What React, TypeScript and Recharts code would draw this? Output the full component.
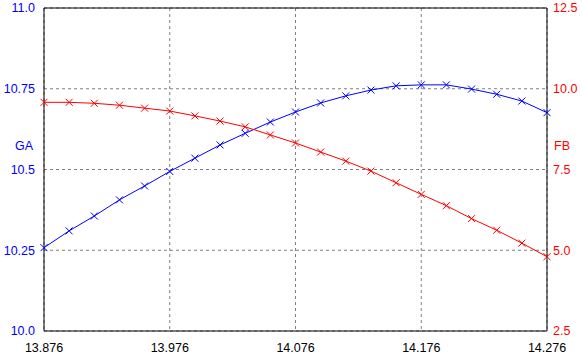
import React from 'react';
import { LineChart, Line, XAxis, YAxis, CartesianGrid, ReferenceLine } from 'recharts';

const xValues = [13.876, 13.896, 13.916, 13.936, 13.956, 13.976, 13.996, 14.016, 14.036, 14.056, 14.076, 14.096, 14.116, 14.136, 14.156, 14.176, 14.196, 14.216, 14.236, 14.256, 14.276];
const gaValues = [10.258, 10.31, 10.356, 10.406, 10.449, 10.494, 10.535, 10.576, 10.612, 10.647, 10.678, 10.706, 10.728, 10.746, 10.759, 10.762, 10.762, 10.749, 10.733, 10.712, 10.676];
const fbValues = [9.58, 9.58, 9.55, 9.49, 9.4, 9.31, 9.16, 9.0, 8.82, 8.57, 8.32, 8.04, 7.76, 7.45, 7.09, 6.73, 6.38, 5.98, 5.62, 5.22, 4.8];

const xTicks = [13.876, 13.976, 14.076, 14.176, 14.276];
const leftTicks = [10.0, 10.25, 10.5, 10.75, 11.0];
const rightTicks = [2.5, 5.0, 7.5, 10.0, 12.5];

const data = xValues.map((x, i) => ({ x, GA: gaValues[i], FB: fbValues[i] }));

const FONT = '"Liberation Sans", Arial, sans-serif';
const FS = 12.5;

const Cross = (color: string) => (props: any) => {
  const { cx, cy } = props;
  if (cx == null || cy == null) return null;
  const s = 3.5;
  return (
    <g>
      <line x1={cx - s} y1={cy - s} x2={cx + s} y2={cy + s} stroke={color} strokeWidth={1} />
      <line x1={cx - s} y1={cy + s} x2={cx + s} y2={cy - s} stroke={color} strokeWidth={1} />
    </g>
  );
};

const fmtLeft = (v: number) => (Math.abs(v * 2 - Math.round(v * 2)) < 1e-9 ? v.toFixed(1) : v.toFixed(2));

export default function App() {
  return (
    <div style={{ position: 'absolute', left: 0, top: 0, background: '#fff' }}>
      <LineChart width={582} height={360} data={data} margin={{ top: 8, right: 0, left: 0, bottom: 0 }}>
        <CartesianGrid yAxisId="left" stroke="#808080" strokeDasharray="3 3" />
        <XAxis
          dataKey="x"
          type="number"
          domain={[13.876, 14.276]}
          ticks={xTicks}
          tickFormatter={(v: number) => v.toFixed(3)}
          height={29}
          tickLine={false}
          tickSize={0}
          tickMargin={12}
          axisLine={{ stroke: '#000' }}
          tick={{ fill: '#000', fontSize: FS, fontFamily: FONT }}
          interval={0}
        />
        <YAxis
          yAxisId="left"
          orientation="left"
          domain={[10, 11]}
          ticks={leftTicks}
          tickFormatter={fmtLeft}
          width={44}
          tickLine={false}
          tickSize={0}
          tickMargin={9}
          axisLine={{ stroke: '#000' }}
          tick={{ fill: '#0000ff', fontSize: FS, fontFamily: FONT }}
          interval={0}
          label={{
            content: () => (
              <text x={24} y={150} textAnchor="middle" fill="#0000ff" fontSize={FS} fontFamily={FONT}>GA</text>
            ),
          }}
        />
        <YAxis
          yAxisId="right"
          orientation="right"
          domain={[2.5, 12.5]}
          ticks={rightTicks}
          tickFormatter={(v: number) => v.toFixed(1)}
          width={35}
          tickLine={false}
          tickSize={0}
          tickMargin={6}
          axisLine={{ stroke: '#000' }}
          tick={{ fill: '#ff0000', fontSize: FS, fontFamily: FONT }}
          interval={0}
          label={{
            content: () => (
              <text x={562} y={150} textAnchor="middle" fill="#ff0000" fontSize={FS} fontFamily={FONT}>FB</text>
            ),
          }}
        />
        <ReferenceLine yAxisId="left" y={11} stroke="#000" strokeWidth={1} />
        <Line yAxisId="left" type="linear" dataKey="GA" stroke="#0000ff" strokeWidth={1} dot={Cross('#0000ff')} isAnimationActive={false} />
        <Line yAxisId="right" type="linear" dataKey="FB" stroke="#ff0000" strokeWidth={1} dot={Cross('#ff0000')} isAnimationActive={false} />
      </LineChart>
    </div>
  );
}
